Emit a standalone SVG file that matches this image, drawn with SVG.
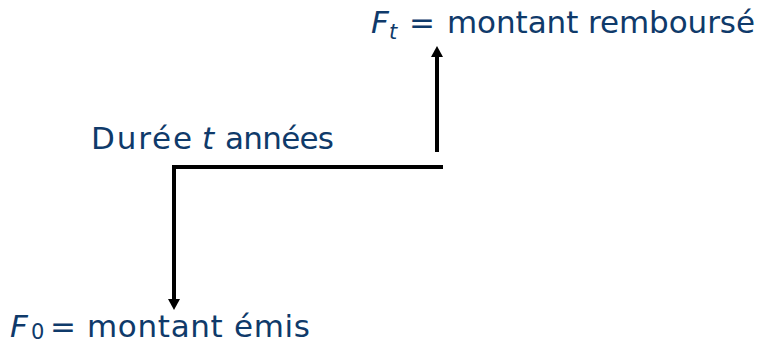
<svg xmlns="http://www.w3.org/2000/svg" width="772" height="349" viewBox="0 0 772 349">
<style>
text{font-family:"DejaVu Sans",Verdana,sans-serif;font-size:31px;fill:#0F3A6A}
.i{font-style:italic}
.sub{font-size:21px}
.c{stroke:#000;stroke-width:4;fill:none}
.ah{fill:#000}
</style>
<g id="connectors">
<path class="c" d="M443,167 H174 V300"/>
<path class="ah" d="M168,299 L174,310 L180,299 Z"/>
<path class="c" d="M437,152 V56"/>
<path class="ah" d="M431,57 L437,46 L443,57 Z"/>
</g>
<g id="top-label">
<text class="i" x="371" y="33">F</text>
<text class="i sub" x="389" y="39">t</text>
<text x="409" y="33">=</text>
<text x="447" y="33" textLength="308" lengthAdjust="spacing">montant remboursé</text>
</g>
<g id="duration-label">
<text x="91" y="149" textLength="101" lengthAdjust="spacing">Durée</text>
<text class="i" x="202" y="149">t</text>
<text x="225" y="149" textLength="109" lengthAdjust="spacing">années</text>
</g>
<g id="bottom-label">
<text class="i" x="10" y="337">F</text>
<text class="sub" x="31" y="339">0</text>
<text x="50" y="337">=</text>
<text x="87" y="337" textLength="223" lengthAdjust="spacing">montant émis</text>
</g>
</svg>
